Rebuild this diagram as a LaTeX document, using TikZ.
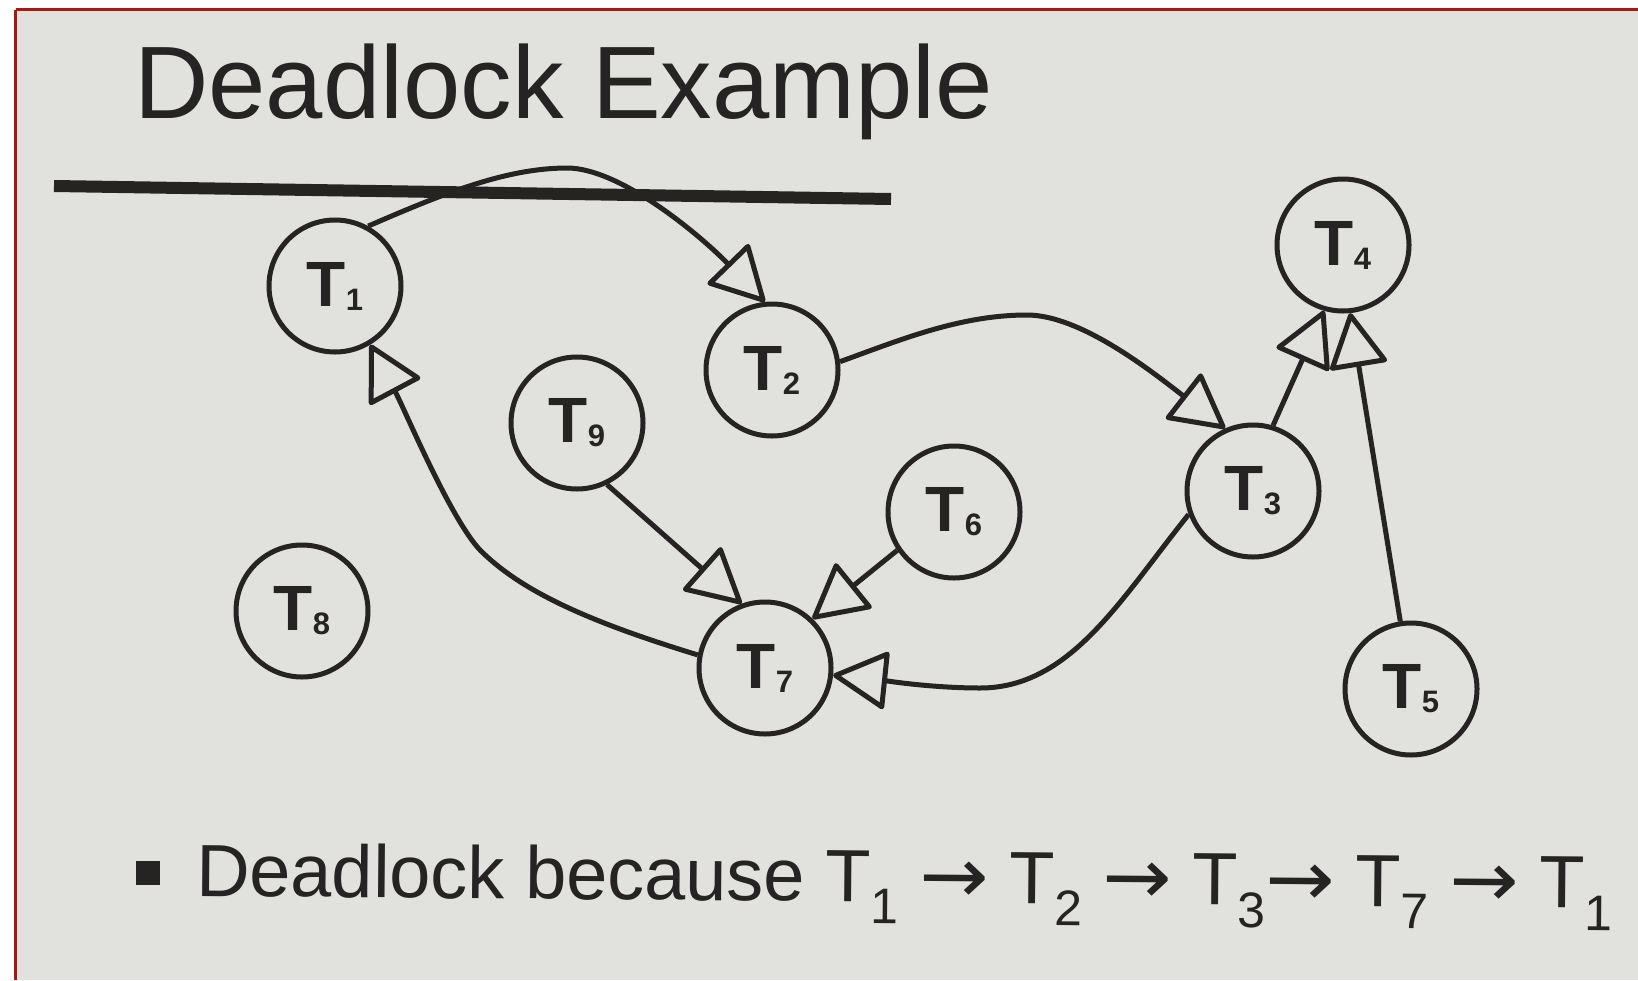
\documentclass[tikz,border=0pt]{standalone}
\usepackage{fontspec}
\setmainfont{Liberation Sans}
\newfontfamily\arrowfont{DejaVu Sans}
\usetikzlibrary{arrows.meta}
\definecolor{paper}{RGB}{225,225,222}
\definecolor{ink}{RGB}{38,35,35}
\definecolor{frame}{RGB}{170,22,18}
\newcommand\nlab[1]{\textbf{T}\raisebox{-4pt}{\fontsize{31}{31}\selectfont\bfseries #1}}
\newcommand\bsub[1]{\raisebox{-22pt}{\fontsize{50}{50}\selectfont #1}}
\newcommand\rarr{\scalebox{1.12}[1.05]{\arrowfont →}}
\begin{document}
\begin{tikzpicture}[x=1pt,y=-1pt,
  task/.style={circle,draw=ink,line width=5pt,minimum size=132pt,inner sep=0pt,
    font=\fontsize{64}{64}\selectfont,text=ink},
  edge/.style={draw=ink,line width=5pt,
    -{Triangle[length=57pt,width=60pt,fill=paper,round]}}]
\useasboundingbox (0,0) rectangle (1638,980);
\fill[white] (0,0) rectangle (1638,980);
\fill[paper] (15,9.5) rectangle (1638,980);
\draw[frame,line width=3pt] (15.5,9.5) -- (1638,9.5);
\draw[frame,line width=3pt] (15.5,9.5) -- (15.5,980);

\node[anchor=base west,inner sep=0pt,text=ink,font=\fontsize{103}{103}\selectfont] (title) at (134,118) {Deadlock Example};

\coordinate (barL) at (54,186);
\coordinate (barR) at (891,199);
\draw[ink,line width=12pt] (barL) -- (barR);

\node[task] (T1) at (335,286) {\nlab{1}};
\node[task] (T2) at (772,370) {\nlab{2}};
\node[task] (T9) at (577,423) {\nlab{9}};
\node[task] (T6) at (954,512) {\nlab{6}};
\node[task] (T8) at (302,611) {\nlab{8}};
\node[task] (T7) at (765,668) {\nlab{7}};
\node[task] (T3) at (1253,491) {\nlab{3}};
\node[task] (T4) at (1343,245) {\nlab{4}};
\node[task] (T5) at (1411,689) {\nlab{5}};

\draw[edge] (T1.61) .. controls (440,195) and (505,168) .. (567,168)
  .. controls (620,168) and (700,235) .. (T2.96);
\draw[edge] (T2.7) .. controls (900,340) and (960,315) .. (1027,315)
  .. controls (1080,315) and (1150,370) .. (T3.114);
\draw[edge] (T3.73) -- (T4.-106);
\draw[edge] (T5.99) -- (T4.-84);
\draw[edge] (T9.-64) -- (T7.110);
\draw[edge] (T6.214) -- (T7.46);
\draw[edge] (T3.200) .. controls (1120,600) and (1070,688) .. (980,688)
  .. controls (930,688) and (880,680) .. (T7.-6);
\draw[edge] (T7.169) .. controls (590,622) and (522,592) .. (480,550)
  .. controls (450,518) and (405,410) .. (T1.-59);

\fill[ink] (136,861) rectangle (160,885);
\node[anchor=base west,inner sep=0pt,text=ink,rotate=-0.5,font=\fontsize{74}{74}\selectfont] (because) at (196,896)
  {Deadlock because T\bsub{1} \rarr{} T\bsub{2} \rarr{} T\bsub{3}\rarr{} T\bsub{7} \rarr{} T\bsub{1}};
\end{tikzpicture}
\end{document}
